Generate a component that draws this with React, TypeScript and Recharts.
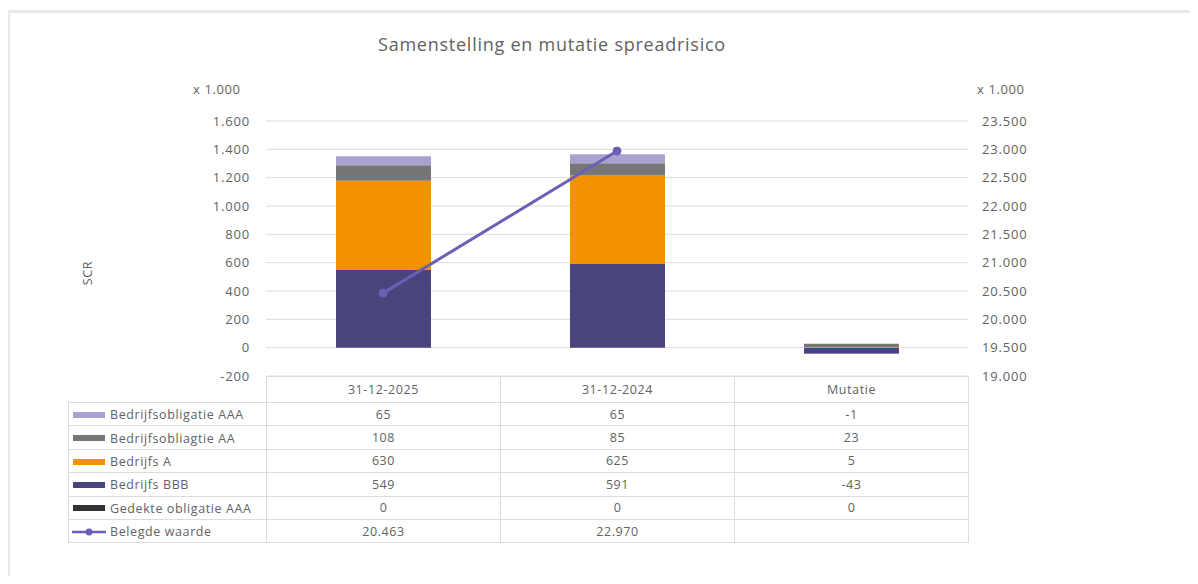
import React from "react";
import { ComposedChart, Bar, Line, XAxis, YAxis, CartesianGrid } from "recharts";

// categories + series (SCR x 1.000, belegde waarde x 1.000)
const categories = ["31-12-2025", "31-12-2024", "Mutatie"];
const aaaValues = [65, 65, -1];
const aaValues = [108, 85, 23];
const aValues = [630, 625, 5];
const bbbValues = [549, 591, -43];
const gedekteValues = [0, 0, 0];
const belegdeValues: (number | null)[] = [20463, 22970, null];

const leftTicks = [-200, 0, 200, 400, 600, 800, 1000, 1200, 1400, 1600];
const rightTicks = [19000, 19500, 20000, 20500, 21000, 21500, 22000, 22500, 23000, 23500];

const COLORS = {
  aaa: "#a8a2d0",
  aa: "#767676",
  a: "#f39200",
  bbb: "#4a447c",
  gedekte: "#333333",
  line: "#6a60b6",
  grid: "#dcdcdc",
  text: "#626262",
};

const FONT = "'Open Sans', sans-serif";

const fmt = (v: number) => {
  const s = String(Math.abs(v)).replace(/\B(?=(\d{3})+(?!\d))/g, ".");
  return v < 0 ? "-" + s : s;
};

const data = categories.map((cat, i) => ({
  cat,
  aaa: aaaValues[i],
  aa: aaValues[i],
  a: aValues[i],
  bbb: bbbValues[i],
  gedekte: gedekteValues[i],
  belegd: belegdeValues[i],
}));

// rows of the data table, in legend order
const tableRows = [
  { name: "Bedrijfsobligatie AAA", color: COLORS.aaa, values: aaaValues, line: false },
  { name: "Bedrijfsobliagtie AA", color: COLORS.aa, values: aaValues, line: false },
  { name: "Bedrijfs A", color: COLORS.a, values: aValues, line: false },
  { name: "Bedrijfs BBB", color: COLORS.bbb, values: bbbValues, line: false },
  { name: "Gedekte obligatie AAA", color: COLORS.gedekte, values: gedekteValues, line: false },
  { name: "Belegde waarde", color: COLORS.line, values: belegdeValues, line: true },
];

const tick = { fill: COLORS.text, fontSize: 13, fontFamily: FONT, letterSpacing: 0.8 };
const border = `1px solid ${COLORS.grid}`;

function DataTable() {
  const cell: React.CSSProperties = {
    border,
    padding: 0,
    textAlign: "center",
    height: 22.4,
    fontSize: 12.5,
    color: COLORS.text,
    letterSpacing: 0.6,
  };
  return (
    <table
      style={{
        position: "absolute",
        left: 60,
        top: 368,
        borderCollapse: "collapse",
        tableLayout: "fixed",
        width: 901,
        fontFamily: FONT,
      }}
    >
      <colgroup>
        <col style={{ width: 198 }} />
        <col style={{ width: 234 }} />
        <col style={{ width: 234 }} />
        <col style={{ width: 234 }} />
      </colgroup>
      <tbody>
        <tr>
          <td style={{ ...cell, borderTop: "none", borderLeft: "none", height: 25 }} />
          {categories.map((c) => (
            <td key={c} style={{ ...cell, height: 25 }}>{c}</td>
          ))}
        </tr>
        {tableRows.map((r) => (
          <tr key={r.name}>
            <td style={{ ...cell, textAlign: "left", whiteSpace: "nowrap" }}>
              {r.line ? (
                <svg width={34} height={10} style={{ verticalAlign: "middle", marginLeft: 3, marginRight: 4 }}>
                  <line x1={0} y1={5} x2={34} y2={5} stroke={r.color} strokeWidth={2.5} />
                  <circle cx={17} cy={5} r={3.5} fill={r.color} />
                </svg>
              ) : (
                <span
                  style={{
                    display: "inline-block",
                    width: 32,
                    height: 6,
                    background: r.color,
                    verticalAlign: "middle",
                    marginLeft: 4,
                    marginRight: 5,
                  }}
                />
              )}
              <span style={{ verticalAlign: "middle" }}>{r.name}</span>
            </td>
            {r.values.map((v, i) => (
              <td key={i} style={cell}>{v === null ? "" : fmt(v)}</td>
            ))}
          </tr>
        ))}
      </tbody>
    </table>
  );
}

export default function App() {
  return (
    <div style={{ position: "relative", width: 1182, height: 568, overflow: "hidden", fontFamily: FONT, background: "#fff" }}>
      <div
        style={{
          position: "absolute",
          left: -1,
          top: 2,
          width: 1300,
          height: 700,
          border: "3px solid #e8e8e8",
        }}
      />
      <div
        style={{
          position: "absolute",
          left: 0,
          width: 1088,
          top: 24,
          textAlign: "center",
          fontSize: 18,
          color: COLORS.text,
          letterSpacing: 0.75,
        }}
      >
        Samenstelling en mutatie spreadrisico
      </div>
      <div style={{ position: "absolute", left: 185, top: 72, fontSize: 13, color: COLORS.text, letterSpacing: 0.6 }}>x 1.000</div>
      <div style={{ position: "absolute", left: 969, top: 72, fontSize: 13, color: COLORS.text, letterSpacing: 0.6 }}>x 1.000</div>
      <div
        style={{
          position: "absolute",
          left: 79,
          top: 265,
          fontSize: 12.5,
          color: COLORS.text,
          letterSpacing: 0.6,
          transform: "translate(-50%, -50%) rotate(-90deg)",
        }}
      >
        SCR
      </div>
      <div style={{ position: "absolute", left: 0, top: 0 }}>
        <ComposedChart
          width={1182}
          height={568}
          data={data}
          stackOffset="sign"
          margin={{ top: 113, right: 122, bottom: 200, left: 0 }}
        >
          <CartesianGrid yAxisId="left" vertical={false} stroke={COLORS.grid} />
          <XAxis dataKey="cat" hide />
          <YAxis
            yAxisId="left"
            width={258}
            domain={[-200, 1600]}
            ticks={leftTicks}
            tickFormatter={fmt}
            tick={tick}
            tickSize={0}
            tickMargin={16}
            axisLine={false}
            tickLine={false}
          />
          <YAxis
            yAxisId="right"
            orientation="right"
            width={100}
            domain={[19000, 23500]}
            ticks={rightTicks}
            tickFormatter={fmt}
            tick={tick}
            tickSize={0}
            tickMargin={14}
            axisLine={false}
            tickLine={false}
          />
          <Bar yAxisId="left" dataKey="gedekte" stackId="s" fill={COLORS.gedekte} barSize={95} isAnimationActive={false} />
          <Bar yAxisId="left" dataKey="bbb" stackId="s" fill={COLORS.bbb} barSize={95} isAnimationActive={false} />
          <Bar yAxisId="left" dataKey="a" stackId="s" fill={COLORS.a} barSize={95} isAnimationActive={false} />
          <Bar yAxisId="left" dataKey="aa" stackId="s" fill={COLORS.aa} barSize={95} isAnimationActive={false} />
          <Bar yAxisId="left" dataKey="aaa" stackId="s" fill={COLORS.aaa} barSize={95} isAnimationActive={false} />
          <Line
            yAxisId="right"
            dataKey="belegd"
            stroke={COLORS.line}
            strokeWidth={3}
            dot={{ r: 4, fill: COLORS.line, stroke: COLORS.line, strokeWidth: 1 }}
            activeDot={false}
            isAnimationActive={false}
          />
        </ComposedChart>
      </div>
      <DataTable />
    </div>
  );
}
